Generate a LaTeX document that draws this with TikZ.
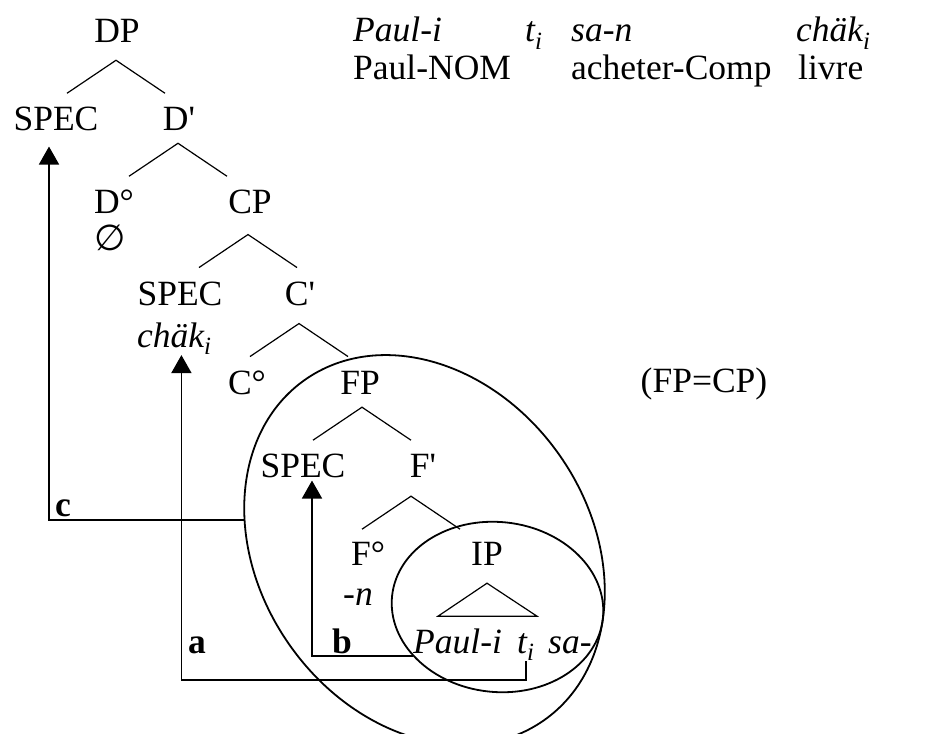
\documentclass[tikz,border=0pt]{standalone}
\usepackage{fontspec}
\setmainfont{Liberation Serif}
\newfontfamily\symbolfont{DejaVu Sans}
\usetikzlibrary{arrows.meta,positioning}
\newcommand\treesize{\fontsize{35.5}{41}\selectfont}
\tikzset{
  cat/.style={anchor=base,inner sep=0pt,font=\treesize},
  word/.style={anchor=base west,inner sep=0pt,font=\treesize\itshape},
  gloss/.style={anchor=base west,inner sep=0pt,font=\treesize},
  movetag/.style={anchor=base west,inner sep=0pt,font=\treesize\bfseries},
  branch/.style={line width=1.2pt},
  movearrow/.style={-{Triangle[length=18pt,width=20pt]},line width=1.8pt},
  zone/.style={line width=1.8pt},
}

\begin{document}
\begin{tikzpicture}[x=1pt,y=-1pt]
  \useasboundingbox (0,0) rectangle (928,733);
  % tree
  \node[cat] (DP) at (117,43) {DP};
  \node[cat] (SPECd) at (56,130) {SPEC};
  \node[cat] (Dbar) at (179,130) {D\textquotesingle};
  \node[cat] (Dzero) at (114,213) {D°};
  \node[anchor=base west,inner sep=0pt,font=\fontsize{36}{42}\selectfont\symbolfont] (empty) at (94,250) {∅};
  \node[cat] (CP) at (250,213) {CP};
  \node[cat] (SPECc) at (180,305) {SPEC};
  \node[word] (chak) at (137,347) {chäk\textsubscript{i}};
  \node[cat] (Cbar) at (300,305) {C\textquotesingle};
  \node[cat] (Czero) at (247,394) {C°};
  \node[cat] (FP) at (360,394) {FP};
  \node[cat] (SPECf) at (303,477) {SPEC};
  \node[cat] (Fbar) at (423,477) {F\textquotesingle};
  \node[cat] (Fzero) at (368,565) {F°};
  \node[word] (neg) at (343,605) {-n};
  \node[cat] (IP) at (487,565) {IP};
  \foreach \p/\dx/\dy in {DP/-1/17,Dbar/-1/13,CP/-2/21,Cbar/-1/18,FP/2/13,Fbar/-12/19}
    \draw[branch] ([shift={(\dx,\dy)}]\p.south) +(-49,33) -- +(0,0) -- +(49,33);
  \draw[branch] ([shift={(0,18)}]IP.south) -- +(-49,33) -- +(50,33) -- cycle;
  \node[word] (paul) at (413,653) {Paul-i};
  \node[word] (ti) at (517,653) {t\textsubscript{i}};
  \node[word] (sa) at (548,653) {sa-};

  % example and gloss
  \node[word] (glossP) at (353,42) {Paul-i};
  \node[word] (glossT) at (525,42) {t\textsubscript{i}};
  \node[word] (glossS) at (571,42) {sa-n};
  \node[word] (glossC) at (796,42) {chäk\textsubscript{i}};
  \node[gloss] (glossPN) at (353,80) {Paul-NOM};
  \node[gloss] (glossAC) at (571,80) {acheter-Comp};
  \node[gloss] (glossL) at (798,80) {livre};
  \node[cat] (same) at (704,392) {(FP=CP)};

  % FP and IP domains
  \draw[zone,rotate around={-55:(424.5,550)}] (424.5,550) ellipse [x radius=208,y radius=165];
  \draw[zone,rotate around={-6:(497.5,607)}] (497.5,607) ellipse [x radius=106,y radius=85];
  \coordinate (FPedge) at (244.5,520);

  % movements
  \draw[movearrow,shorten >=3pt] ([yshift=-3pt]paul.base west) -| ([xshift=9pt]SPECf.south);
  \draw[movearrow] (ti.south) -- ++(0,19) -| ([xshift=7pt]chak.south);
  \draw[movearrow,shorten >=16pt] (FPedge) -| ([xshift=-7pt]SPECd.south);
  \node[movetag] (taga) at (188,653) {a};
  \node[movetag] (tagb) at (332,653) {b};
  \node[movetag] (tagc) at (55,516) {c};
\end{tikzpicture}
\end{document}
